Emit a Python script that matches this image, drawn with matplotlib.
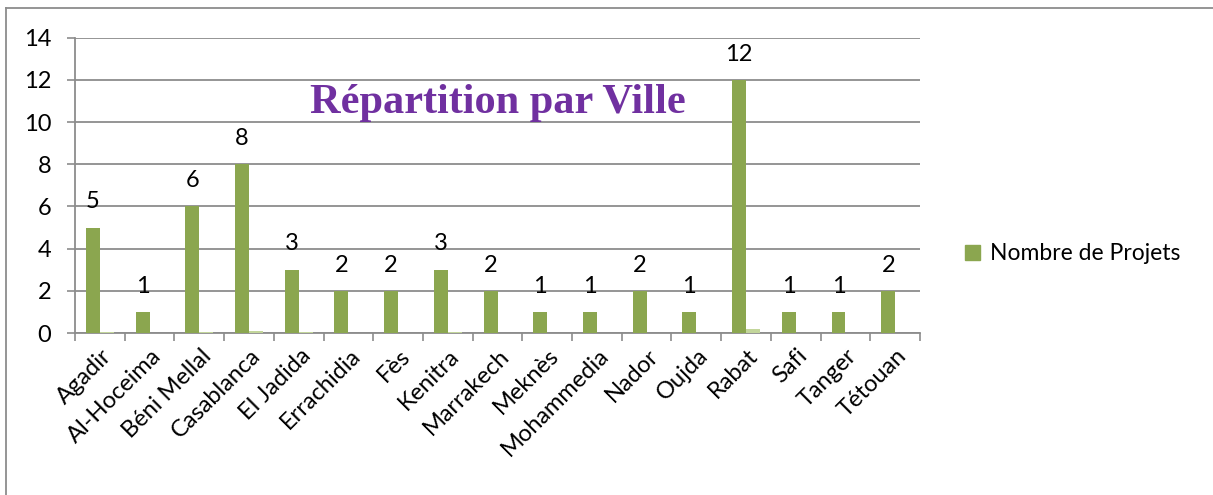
import matplotlib.pyplot as plt
import matplotlib.transforms as mtransforms
import numpy as np
from matplotlib.lines import Line2D
from matplotlib.patches import Patch

villes = ["Agadir", "Al-Hoceima", "Béni Mellal", "Casablanca", "El Jadida",
          "Errachidia", "Fès", "Kenitra", "Marrakech", "Meknès", "Mohammedia",
          "Nador", "Oujda", "Rabat", "Safi", "Tanger", "Tétouan"]
nb_projets = [5, 1, 6, 8, 3, 2, 2, 3, 2, 1, 1, 2, 1, 12, 1, 1, 2]
# second series (share), barely visible next to the counts
part = [0.05, 0.02, 0.05, 0.1, 0.03, 0.02, 0.02, 0.03, 0.02, 0.01, 0.01,
        0.02, 0.01, 0.2, 0.01, 0.01, 0.02]

plt.rcParams['font.family'] = ['Lato', 'DejaVu Sans']

fig = plt.figure(figsize=(12.13, 4.95), dpi=100)
ax = fig.add_axes([75 / 1213, 1 - 333 / 495, 845 / 1213, 295.3 / 495])

grey = "#8c8c8c"
x = np.arange(len(villes))
w = 0.28
ax.bar(x - w / 2, nb_projets, width=w, color="#8ba64f", zorder=3,
       label="Nombre de Projets")
ax.bar(x + w / 2, part, width=w, color="#c3d69b", zorder=3)

for xi, v in zip(x, nb_projets):
    ax.annotate(str(v), (xi - w / 2, v), xytext=(0, 11), textcoords="offset points",
                ha="center", va="bottom", fontsize=17, color="black")

ax.set_xlim(-0.5, len(villes) - 0.5)
ax.set_ylim(0, 14)
ax.set_yticks(range(0, 15, 2))
ax.yaxis.grid(True, color=grey, lw=1.3, zorder=0)
ax.tick_params(axis="y", length=6, width=1.2, color=grey, pad=11, labelsize=17)

ax.set_xticks(x)
ax.set_xticklabels(villes, rotation=45, ha="right", va="center",
                   rotation_mode="anchor", fontsize=17)
ax.set_xticks(np.arange(-0.5, len(villes)), minor=True)
ax.tick_params(axis="x", which="major", length=0, pad=14)
ax.tick_params(axis="x", which="minor", length=6, width=1.2, color=grey)
shift = mtransforms.ScaledTranslation(6 / 72, 0, fig.dpi_scale_trans)
for lab in ax.get_xticklabels():
    lab.set_transform(lab.get_transform() + shift)

for s in ["top", "right"]:
    ax.spines[s].set_visible(False)
for s in ["left", "bottom"]:
    ax.spines[s].set_color(grey)
    ax.spines[s].set_linewidth(1.3)

ax.text(0.5, 0.78, "Répartition par Ville", transform=ax.transAxes,
        ha="center", va="center", fontsize=30.5, fontweight="bold",
        color="#7030a0", family="Liberation Serif", zorder=5)

fig.legend(handles=[Patch(color="#8ba64f", label="Nombre de Projets")],
           loc="center left", bbox_to_anchor=(944 / 1213, 1 - 254 / 495),
           frameon=False, fontsize=16.5, handlelength=0.65, handleheight=0.65,
           handletextpad=0.45)

# frame around the chart (top and left edges)
fig.add_artist(Line2D([6 / 1213, 1], [1 - 8 / 495, 1 - 8 / 495], color=grey, lw=1.3))
fig.add_artist(Line2D([6 / 1213, 6 / 1213], [0, 1 - 8 / 495], color=grey, lw=1.3))

fig.savefig("out.png", dpi=100)
